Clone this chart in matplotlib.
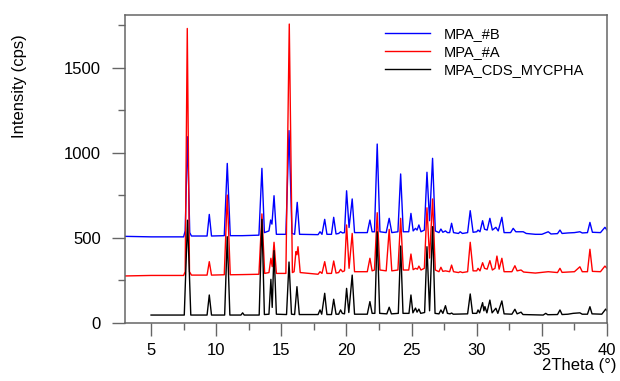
import matplotlib
matplotlib.use("Agg")
import matplotlib.pyplot as plt
from matplotlib.ticker import MultipleLocator

plt.rcParams['font.family'] = ['Liberation Sans', 'DejaVu Sans']

# ---- data (vertices) ----
black_x = [5.0, 7.55, 7.80, 8.05, 9.30, 9.47, 9.64, 10.65, 10.85, 11.05, 11.9, 12.03, 12.15,
           13.30, 13.51, 13.70, 14.05, 14.20, 14.30, 14.44, 14.62, 15.40, 15.59, 15.78,
           16.02, 16.20, 16.38, 17.82, 17.97, 18.10, 18.33, 18.50, 18.85, 19.02, 19.20,
           19.40, 19.55, 19.68, 19.85, 20.01, 20.18, 20.44, 20.62, 21.60, 21.80, 21.97,
           22.18, 22.36, 22.55, 23.10, 23.28, 23.45, 23.98, 24.16, 24.34, 24.80, 24.95,
           25.10, 25.30, 25.42, 25.56, 25.70, 26.00, 26.18, 26.38, 26.61, 26.80, 27.10,
           27.25, 27.40, 27.60, 27.75, 27.95, 28.07, 28.20, 29.30, 29.50, 29.68, 30.00,
           30.10, 30.22, 30.45, 30.55, 30.63, 30.78, 31.01, 31.18, 31.47, 31.62, 31.93,
           32.10, 32.70, 32.93, 33.10, 33.40, 33.55, 35.10, 35.30, 35.45, 36.20, 36.39,
           36.55, 37.00, 37.40, 37.92, 38.10, 38.50, 38.69, 38.85, 39.60, 39.90, 40.0]
black_y = [45, 45, 603, 45, 45, 163, 45, 45, 506, 45, 45, 58, 45,
           45, 608, 48, 50, 255, 90, 424, 50, 48, 357, 50,
           48, 212, 48, 48, 75, 50, 173, 48, 48, 138, 50,
           50, 75, 55, 52, 202, 60, 280, 50, 50, 124, 55,
           55, 535, 55, 52, 91, 52, 55, 451, 55, 55, 163,
           58, 86, 62, 80, 55, 60, 447, 70, 565, 55, 52,
           75, 55, 100, 55, 52, 57, 50, 52, 169, 55, 55,
           75, 58, 118, 70, 95, 58, 133, 58, 85, 55, 128,
           52, 50, 79, 52, 62, 48, 45, 55, 47, 48, 75,
           48, 50, 55, 58, 50, 50, 94, 52, 50, 80, 70]

red_x = [3.0, 5.0, 7.50, 7.62, 7.78, 7.95, 8.10, 9.30, 9.47, 9.64, 10.62, 10.85, 11.08, 12.0,
         13.28, 13.51, 13.72, 14.05, 14.20, 14.30, 14.44, 14.62, 15.35, 15.61, 15.85,
         15.98, 16.12, 16.20, 16.28, 16.45, 17.82, 17.97, 18.12, 18.33, 18.50, 18.85,
         19.02, 19.20, 19.40, 19.55, 19.70, 19.85, 20.01, 20.20, 20.44, 20.62, 21.60,
         21.80, 21.97, 22.15, 22.36, 22.57, 23.05, 23.28, 23.48, 23.95, 24.16, 24.36,
         24.78, 24.95, 25.12, 25.30, 25.45, 25.56, 25.72, 25.98, 26.18, 26.38, 26.61,
         26.82, 27.10, 27.25, 27.40, 27.60, 27.92, 28.07, 28.22, 28.60, 28.73, 28.90,
         29.30, 29.50, 29.72, 30.00, 30.10, 30.25, 30.45, 30.60, 30.80, 31.01, 31.20,
         31.40, 31.55, 31.72, 31.93, 32.10, 32.70, 32.93, 33.10, 33.40, 33.60, 34.50,
         35.49, 36.20, 36.39, 36.55, 37.00, 37.50, 37.92, 38.10, 38.50, 38.69, 38.88,
         39.50, 39.84, 40.0]
red_y = [275, 278, 278, 300, 1731, 300, 280, 280, 359, 280, 282, 751, 282, 283,
         285, 640, 290, 295, 379, 330, 473, 290, 290, 1757, 295,
         300, 418, 400, 447, 295, 285, 300, 290, 359, 290, 290,
         363, 292, 295, 314, 300, 305, 575, 320, 525, 300, 300,
         379, 305, 310, 647, 310, 305, 549, 305, 310, 614, 310,
         310, 404, 312, 320, 315, 333, 310, 320, 676, 380, 728,
         310, 300, 326, 302, 305, 300, 339, 300, 295, 300, 295,
         300, 473, 305, 305, 320, 305, 353, 320, 315, 365, 310,
         320, 392, 315, 379, 300, 300, 335, 305, 310, 298, 292,
         300, 295, 320, 296, 298, 300, 329, 300, 300, 432, 302,
         300, 333, 320]

blue_x = [3.0, 5.0, 7.50, 7.62, 7.80, 7.97, 8.10, 9.30, 9.47, 9.64, 10.62, 10.85, 11.08, 12.0,
          13.28, 13.51, 13.70, 14.05, 14.18, 14.28, 14.44, 14.62, 15.35, 15.59, 15.82,
          16.02, 16.22, 16.40, 17.82, 17.97, 18.12, 18.33, 18.50, 18.85, 19.02, 19.20,
          19.40, 19.55, 19.70, 19.85, 20.01, 20.20, 20.44, 20.62, 21.60, 21.80, 21.97,
          22.15, 22.36, 22.57, 23.05, 23.28, 23.48, 23.95, 24.16, 24.36, 24.78, 24.95,
          25.12, 25.30, 25.42, 25.56, 25.72, 25.98, 26.18, 26.38, 26.61, 26.82, 27.10,
          27.25, 27.40, 27.60, 27.75, 27.92, 28.07, 28.22, 28.60, 28.73, 28.90, 29.30,
          29.50, 29.72, 30.00, 30.10, 30.25, 30.45, 30.60, 30.80, 31.01, 31.20, 31.47,
          31.65, 31.93, 32.10, 32.60, 32.80, 33.00, 33.57, 33.80, 34.50, 35.00, 35.49,
          35.70, 36.20, 36.39, 36.55, 37.00, 37.50, 37.92, 38.10, 38.50, 38.69, 38.88,
          39.50, 39.84, 40.0]
blue_y = [508, 505, 505, 540, 1094, 530, 510, 510, 637, 510, 512, 937, 512, 512,
          515, 908, 530, 540, 604, 580, 747, 520, 520, 1130, 525,
          520, 708, 520, 518, 535, 520, 608, 520, 520, 620, 522,
          525, 535, 528, 530, 776, 560, 728, 530, 530, 604, 535,
          535, 1051, 535, 530, 614, 530, 535, 875, 535, 535, 643,
          540, 555, 545, 575, 535, 545, 885, 600, 967, 540, 530,
          551, 532, 540, 530, 530, 585, 530, 525, 535, 525, 530,
          659, 532, 535, 545, 535, 600, 550, 545, 614, 545, 561,
          540, 620, 530, 530, 555, 535, 535, 525, 520, 520, 535,
          522, 524, 545, 525, 528, 530, 535, 528, 530, 590, 532,
          530, 561, 545]

series_labels = ["MPA_#B", "MPA_#A", "MPA_CDS_MYCPHA"]
series_colors = ["#0000ff", "#ff0000", "#000000"]

# ---- figure ----
fig = plt.figure(figsize=(6.2, 3.81), dpi=100)
ax = fig.add_axes([125 / 620, 1 - 322.7 / 381, (607 - 125) / 620, (322.7 - 14.7) / 381])

for xs, ys, lab, col in zip([blue_x, red_x, black_x], [blue_y, red_y, black_y],
                            series_labels, series_colors):
    ax.plot(xs, ys, color=col, lw=1.0, label=lab)

ax.set_xlim(3, 40)
ax.set_ylim(0, 1812)
ax.xaxis.set_major_locator(MultipleLocator(5))
ax.xaxis.set_minor_locator(MultipleLocator(2.5))
ax.yaxis.set_major_locator(MultipleLocator(500))
ax.yaxis.set_minor_locator(MultipleLocator(250))

spine_col = "#666666"
for s in ax.spines.values():
    s.set_color(spine_col)
    s.set_linewidth(1.1)
ax.tick_params(which='major', direction='out', length=9.5, width=1.0, color=spine_col,
               labelsize=12, labelcolor='black')
ax.tick_params(axis='x', which='major', pad=5)
ax.tick_params(axis='y', which='major', pad=8)
ax.tick_params(which='minor', direction='out', length=4.8, width=1.0, color=spine_col)

fig.text(20 / 620, 1 - 86 / 381, "Intensity (cps)", rotation=90, ha='center', va='center',
         fontsize=12)
fig.text(617 / 620, 1 - 370 / 381, "2Theta (°)", ha='right', va='baseline', fontsize=12)

ax.legend(loc='upper left', bbox_to_anchor=(385 / 620, 1 - 27.5 / 381),
          bbox_transform=fig.transFigure, frameon=False, borderpad=0, borderaxespad=0,
          handlelength=3.1, handletextpad=0.95, labelspacing=0.27, fontsize=10.5)

fig.savefig("out.png", dpi=100)
